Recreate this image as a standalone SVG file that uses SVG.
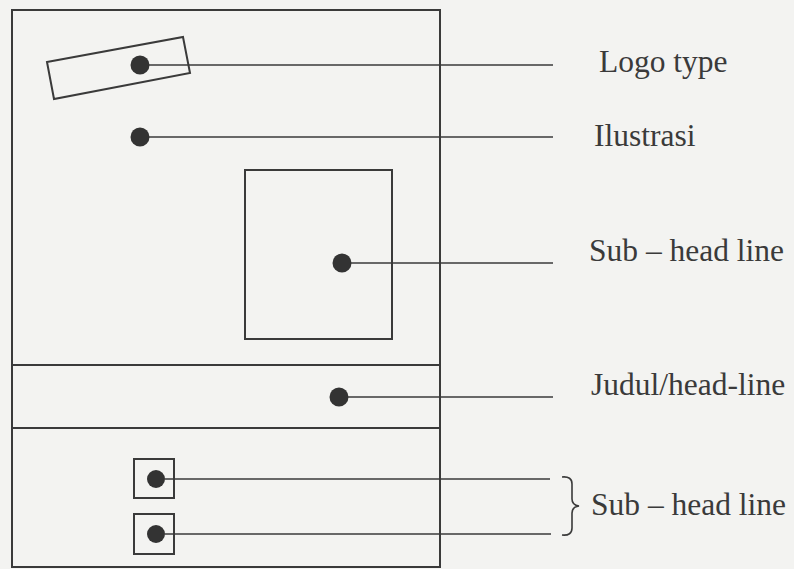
<svg xmlns="http://www.w3.org/2000/svg" width="794" height="569" viewBox="0 0 794 569">
<style>
.frame{fill:none;stroke:#3a3a3a;stroke-width:2}
.conn{fill:none;stroke:#3a3a3a;stroke-width:1.6}
.dot{fill:#333333}
.lbl{font-family:"Liberation Serif","Times New Roman",serif;font-size:31.5px;fill:#3a3a3a}
</style>
<rect x="0" y="0" width="794" height="569" fill="#f3f3f1"/>
<g id="page">
<rect class="frame" x="12" y="10" width="428" height="557"/>
<line class="frame" x1="12" y1="365" x2="440" y2="365"/>
<line class="frame" x1="12" y1="428" x2="440" y2="428"/>
</g>
<g id="logo">
<polygon class="frame" points="47,62 183,37 190,73 54,99"/>
<circle class="dot" cx="140" cy="65" r="9.5"/>
</g>
<g id="ilustrasi">
<circle class="dot" cx="140" cy="137" r="9.5"/>
</g>
<g id="subhead">
<rect class="frame" x="245" y="170" width="147" height="169"/>
<circle class="dot" cx="342" cy="263" r="9.5"/>
</g>
<g id="judul">
<circle class="dot" cx="339" cy="397" r="9.5"/>
</g>
<g id="subhead2">
<rect class="frame" x="134" y="459" width="40" height="39"/>
<circle class="dot" cx="156" cy="479" r="9"/>
<rect class="frame" x="134" y="514" width="40" height="40"/>
<circle class="dot" cx="156" cy="534" r="9"/>
</g>
<g id="connectors">
<line class="conn" x1="149" y1="65" x2="553" y2="65"/>
<line class="conn" x1="149" y1="137" x2="553" y2="137"/>
<line class="conn" x1="351" y1="263" x2="553" y2="263"/>
<line class="conn" x1="348" y1="397" x2="553" y2="397"/>
<line class="conn" x1="165" y1="479" x2="550" y2="479"/>
<line class="conn" x1="165" y1="534" x2="551" y2="534"/>
<path class="conn" d="M562,477 Q572,476 572,484 L572,499 Q572,505 579,506 Q572,507 572,513 L572,528 Q572,536 562,535"/>
</g>
<g id="labels">
<text class="lbl" x="599" y="72">Logo type</text>
<text class="lbl" x="594" y="146">Ilustrasi</text>
<text class="lbl" x="589" y="261">Sub – head line</text>
<text class="lbl" x="591" y="395">Judul/head-line</text>
<text class="lbl" x="591" y="515">Sub – head line</text>
</g>
</svg>
